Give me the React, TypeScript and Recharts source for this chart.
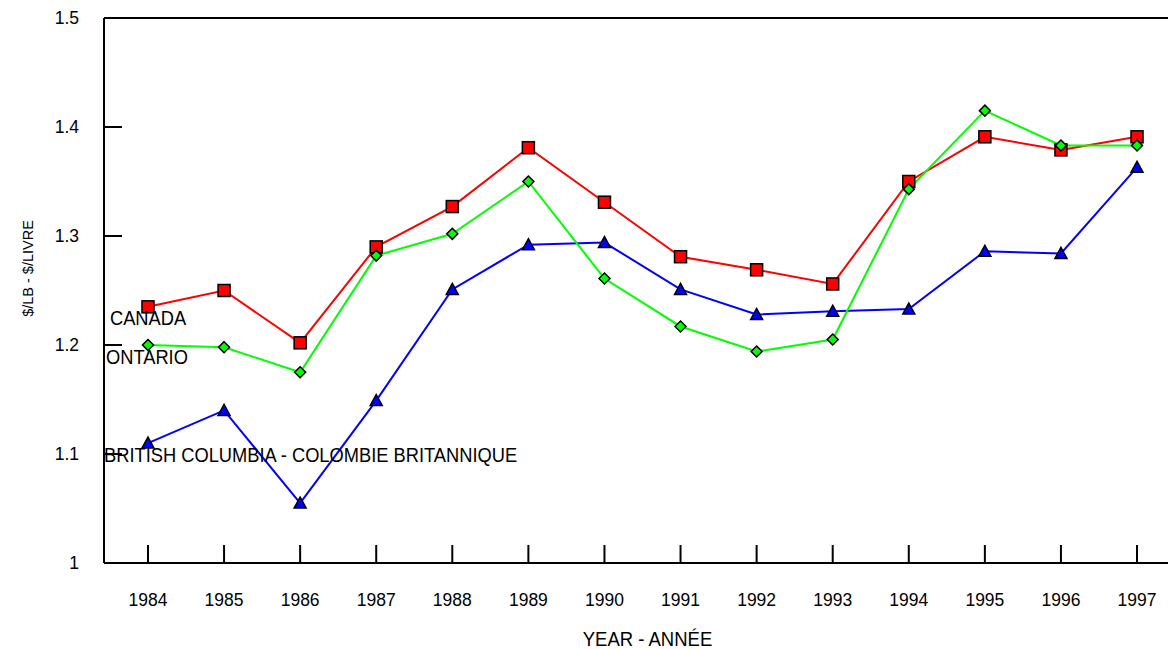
import { LineChart, Line, XAxis, YAxis, ReferenceLine, ReferenceDot } from 'recharts';

const years = [1984, 1985, 1986, 1987, 1988, 1989, 1990, 1991, 1992, 1993, 1994, 1995, 1996, 1997];
const canada = [1.235, 1.25, 1.202, 1.29, 1.327, 1.381, 1.331, 1.281, 1.269, 1.256, 1.35, 1.391, 1.379, 1.391];
const ontario = [1.2, 1.198, 1.175, 1.282, 1.302, 1.35, 1.261, 1.217, 1.194, 1.205, 1.343, 1.415, 1.383, 1.383];
const britishColumbia = [1.11, 1.14, 1.055, 1.149, 1.251, 1.292, 1.294, 1.251, 1.228, 1.231, 1.233, 1.286, 1.284, 1.363];
const yTicks = [1, 1.1, 1.2, 1.3, 1.4, 1.5];

// text labels written inside the plot, anchored in data units
const seriesLabels = [
  { text: 'CANADA', year: 1983.5, value: 1.218 },
  { text: 'ONTARIO', year: 1983.448, value: 1.1826 },
  { text: 'BRITISH COLUMBIA - COLOMBIE BRITANNIQUE', year: 1983.422, value: 1.0927 },
];

const X_MIN = 1983.422;
const X_MAX = 1997.578;
const FONT = '"Liberation Sans", Arial, sans-serif';
const TICK_LEN = 18;

const data = years.map((year, i) => ({
  year,
  canada: canada[i],
  ontario: ontario[i],
  bc: britishColumbia[i],
}));

const Square = (props: any) => {
  const { cx, cy } = props;
  if (cx == null || cy == null) return null;
  return <rect x={cx - 6} y={cy - 6} width={12} height={12} fill="#FF0000" stroke="#000" strokeWidth={1.5} />;
};

const Diamond = (props: any) => {
  const { cx, cy } = props;
  if (cx == null || cy == null) return null;
  const r = 5.5;
  return (
    <polygon
      points={`${cx},${cy - r} ${cx + r},${cy} ${cx},${cy + r} ${cx - r},${cy}`}
      fill="#00FF00"
      stroke="#000"
      strokeWidth={1.5}
    />
  );
};

const Triangle = (props: any) => {
  const { cx, cy } = props;
  if (cx == null || cy == null) return null;
  return (
    <polygon
      points={`${cx},${cy - 6} ${cx + 6},${cy + 5} ${cx - 6},${cy + 5}`}
      fill="#0000FF"
      stroke="#000"
      strokeWidth={1.5}
    />
  );
};

const XTick = (props: any) => {
  const { x, y, payload } = props;
  return (
    <g>
      <line x1={x} y1={y} x2={x} y2={y - TICK_LEN} stroke="#000" strokeWidth={2} />
      <text
        transform={`translate(${x}, ${y + 43}) scale(1, 1.05)`}
        textAnchor="middle"
        fontSize={17.5}
        fontFamily={FONT}
        fill="#000"
      >
        {payload.value}
      </text>
    </g>
  );
};

const YTick = (props: any) => {
  const { x, y, payload } = props;
  const inner = payload.value > 1 && payload.value < 1.5;
  return (
    <g>
      {inner && <line x1={x} y1={y} x2={x + TICK_LEN} y2={y} stroke="#000" strokeWidth={2} />}
      <text
        transform={`translate(${x - 25}, ${y + 6}) scale(1, 1.05)`}
        textAnchor="end"
        fontSize={17.5}
        fontFamily={FONT}
        fill="#000"
      >
        {payload.value}
      </text>
    </g>
  );
};

export default function App() {
  return (
    <div style={{ position: 'absolute', left: 0, top: 0, width: 1168, height: 649, overflow: 'hidden', background: '#fff' }}>
      <LineChart width={1190} height={649} data={data} margin={{ top: 18, right: 9, left: 0, bottom: 0 }}>
        <XAxis
          dataKey="year"
          type="number"
          domain={[X_MIN, X_MAX]}
          ticks={years}
          allowDataOverflow
          height={86}
          tickSize={0}
          tickMargin={0}
          tickLine={false}
          axisLine={{ stroke: '#000', strokeWidth: 2 }}
          tick={<XTick />}
          label={{
            content: (p: any) => {
              const vb = p.viewBox;
              return (
                <text
                  transform={`translate(${vb.x + vb.width / 2 + 5}, ${vb.y + 83}) scale(1, 1.05)`}
                  textAnchor="middle"
                  fontSize={18.5}
                  fontFamily={FONT}
                  fill="#000"
                >
                  YEAR - ANNÉE
                </text>
              );
            },
          }}
        />
        <YAxis
          type="number"
          domain={[1, 1.5]}
          ticks={yTicks}
          width={104}
          tickSize={0}
          tickMargin={0}
          tickLine={false}
          axisLine={{ stroke: '#000', strokeWidth: 2 }}
          tick={<YTick />}
          label={{
            content: (p: any) => {
              const vb = p.viewBox;
              const cy = vb.y + vb.height / 2 - 22;
              return (
                <text
                  x={33}
                  y={cy}
                  transform={`rotate(-90, 33, ${cy})`}
                  textAnchor="middle"
                  fontSize={14.5}
                  fontFamily={FONT}
                  fill="#000"
                >
                  $/LB - $/LIVRE
                </text>
              );
            },
          }}
        />
        <ReferenceLine y={1.5} stroke="#000" strokeWidth={2} />
        <Line dataKey="bc" stroke="#0000FF" strokeWidth={2} dot={<Triangle />} isAnimationActive={false} />
        <Line dataKey="canada" stroke="#FF0000" strokeWidth={2} dot={<Square />} isAnimationActive={false} />
        <Line dataKey="ontario" stroke="#00FF00" strokeWidth={2} dot={<Diamond />} isAnimationActive={false} />
        {seriesLabels.map((l) => (
          <ReferenceDot
            key={l.text}
            x={l.year}
            y={l.value}
            r={0}
            ifOverflow="visible"
            shape={(p: any) => (
              <text
                transform={`translate(${p.cx}, ${p.cy}) scale(1, 1.1)`}
                fontSize={18.3}
                fontFamily={FONT}
                fill="#000"
              >
                {l.text}
              </text>
            )}
          />
        ))}
      </LineChart>
    </div>
  );
}
